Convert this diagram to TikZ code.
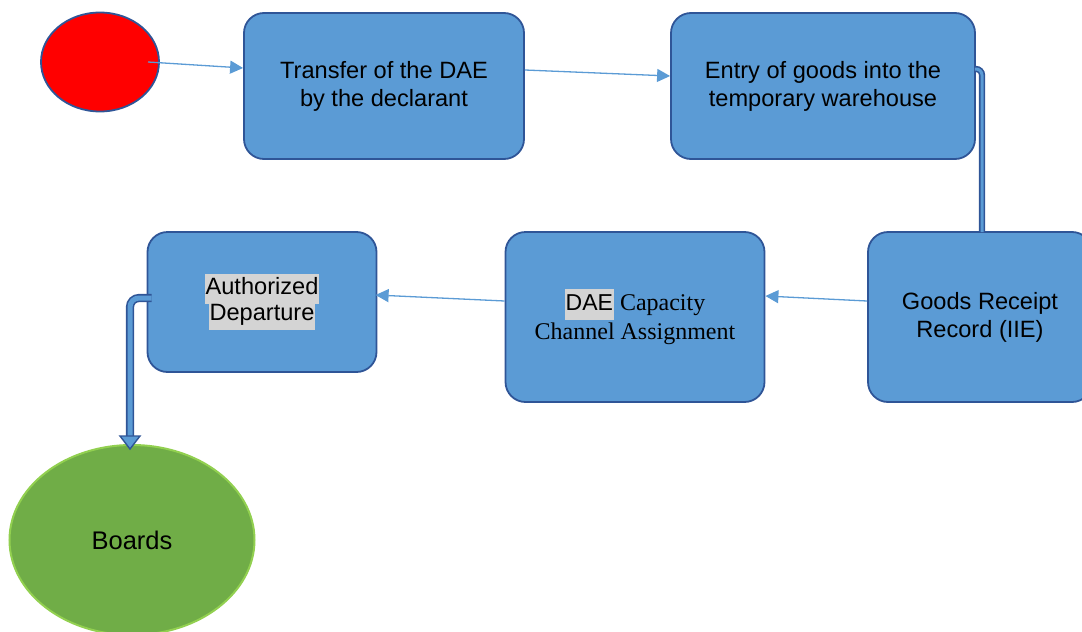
\documentclass[tikz,border=0pt]{standalone}
\usepackage{fontspec}
\setmainfont{Liberation Serif}
\setsansfont{Liberation Sans}
\usetikzlibrary{arrows.meta,calc,shapes.geometric}
\definecolor{boxfill}{RGB}{91,155,213}
\definecolor{boxline}{RGB}{47,85,151}
\definecolor{flowline}{RGB}{91,155,213}
\definecolor{startred}{RGB}{255,0,0}
\definecolor{endgreen}{RGB}{112,173,71}
\definecolor{endrim}{RGB}{146,208,80}
\definecolor{hlgray}{RGB}{212,212,212}
\newcommand{\hl}[1]{{\setlength{\fboxsep}{1pt}\colorbox{hlgray}{\strut #1}}}
\begin{document}
\begin{tikzpicture}[x=1pt,y=-1pt,
  stepbox/.style={draw=boxline, line width=1.8pt, fill=boxfill, rounded corners=20pt,
    align=center, inner sep=0pt, font=\sffamily\fontsize{23.6}{28}\selectfont},
  flow/.style={draw=flowline, line width=1.3pt, -{Triangle[length=13pt,width=13pt]}},
  pipe/.style={draw=boxline, line width=1.6pt, double=boxfill, double distance=3pt, rounded corners=6pt}]
\useasboundingbox (0,0) rectangle (1082,632);
\clip (0,0) rectangle (1082,632);

% start and end events
\node (start) [ellipse, draw=boxline, line width=1.8pt, fill=startred,
  minimum width=118pt, minimum height=99pt] at (100,62) {};
\node (finish) [ellipse, draw=endrim, line width=2pt, fill=endgreen,
  minimum width=245pt, minimum height=190pt, font=\sffamily\fontsize{25.5}{28}\selectfont] at (132,540) {Boards};

% process steps
\node (transfer) [stepbox, minimum width=280pt, minimum height=146pt] at (384,86)
  {Transfer of the DAE\\by the declarant};
\node (entry) [stepbox, minimum width=304pt, minimum height=146pt] at (823,86)
  {Entry of goods into the\\temporary warehouse};
\node (receipt) [stepbox, minimum width=224pt, minimum height=170pt] at (980,317)
  {Goods Receipt\\Record (IIE)};
\node (channel) [stepbox, minimum width=259pt, minimum height=170pt,
  font=\rmfamily\fontsize{24}{29}\selectfont] at (635,317)
  {\hl{\sffamily\fontsize{23}{29}\selectfont DAE} Capacity\\Channel Assignment};
\node (departure) [stepbox, minimum width=229pt, minimum height=140pt] at (262,302)
  {\hl{Authorized}\\[-5pt]\hl{Departure}};

% thin flow arrows
\coordinate (s0) at ($(start.center)+(48,0)$);
\draw[flow] (s0) -- ($(transfer.west)+(0,-18)$);
\draw[flow] ($(transfer.east)+(0,-16)$) -- ($(entry.west)+(0,-10)$);
\draw[flow] ($(receipt.west)+(0,-16)$) -- ($(channel.east)+(0,-21)$);
\draw[flow] ($(channel.west)+(0,-16)$) -- ($(departure.west)+(229,-7)$);

% double pipe from the warehouse to the receipt record
\coordinate (p1) at ($(entry.east)+(-1,-17)$);
\draw[pipe] (p1) -| ($(receipt.north)+(2,1)$);

% block arrow from departure down to boarding
\coordinate (b0) at ($(departure.west)+(5,-4)$);
\coordinate (b1) at ($(b0-|finish.north)+(-2,0)$);
\coordinate (b2) at ($(finish.north)+(-2,-7)$);
\draw[draw=boxline, line width=1.6pt, double=boxfill, double distance=5pt, rounded corners=9pt]
  (b0) -- (b1) -- (b2);
\draw[draw=boxline, line width=1.4pt, fill=boxfill, line join=miter]
  ($(b2)+(-10,-1)$) -- ($(b2)+(10,-1)$) -- ($(finish.north)+(-2,5)$) -- cycle;
\end{tikzpicture}
\end{document}
